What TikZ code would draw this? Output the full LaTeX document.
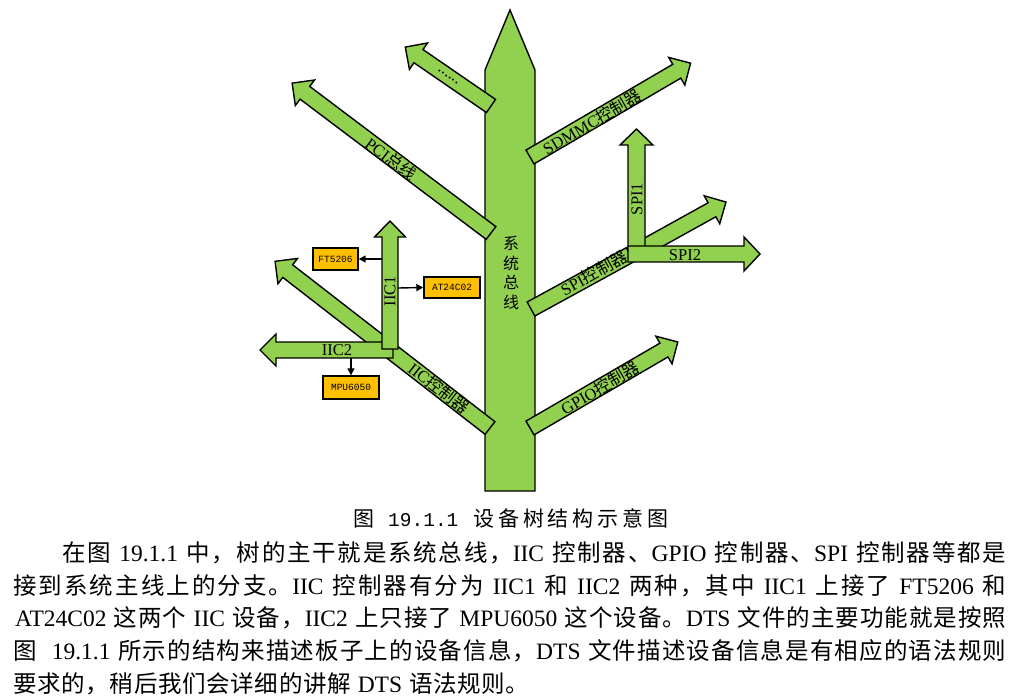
\documentclass[tikz,border=0pt]{standalone}
\usepackage{fontspec}
\setmainfont{Liberation Serif}
\newfontfamily\cjk{Noto Sans CJK SC}
\newfontfamily\monofam{Liberation Mono}
\usetikzlibrary{arrows.meta}

\definecolor{leaf}{HTML}{92D050}
\definecolor{chip}{HTML}{FFC000}

% character classes for Han ideographs and CJK punctuation, with
% stretchable glue between them so that lines can be justified
\newXeTeXintercharclass\hanclass
\newXeTeXintercharclass\cjkpunct
\count255="4E00
\loop
  \XeTeXcharclass\count255=\hanclass
  \advance\count255 by 1
  \ifnum\count255<"A000
\repeat
\XeTeXcharclass"3001=\cjkpunct
\XeTeXcharclass"3002=\cjkpunct
\XeTeXcharclass"FF0C=\cjkpunct
\XeTeXinterchartokenstate=1
\XeTeXinterchartoks\hanclass\hanclass={\hskip 0pt plus 2pt\relax}
\XeTeXinterchartoks\hanclass\cjkpunct={\hskip 0pt plus 2pt\relax}
\XeTeXinterchartoks\cjkpunct\hanclass={\hskip 0pt plus 2pt\relax}

\newcommand\cj[1]{{\cjk #1}}
\newcommand\pcj[1]{{\cjk\fontsize{23.5}{28}\selectfont #1}}

\tikzset{
  limb/.style={draw=black, fill=leaf, line width=1.4pt, line join=miter},
  pics/arrowlimb/.style n args={3}{code={
    \draw[limb] (0,-#2) -- (#1-16,-#2) -- (#1-16,-#3) -- (#1,0)
                -- (#1-16,#3) -- (#1-16,#2) -- (0,#2) -- cycle;}},
  pics/stemlimb/.style n args={2}{code={
    \draw[limb] (0,-#2) rectangle (#1,#2);}},
  tag/.style={inner sep=0pt, font=\fontsize{16.5}{18}\selectfont},
  chipbox/.style={draw=black, fill=chip, line width=1.4pt, inner sep=0pt,
                  font=\monofam\fontsize{9.5}{10}\selectfont},
  wire/.style={line width=1.4pt, -{Triangle[length=7pt,width=7pt]}},
  textline/.style={anchor=base west, inner sep=0pt, font=\fontsize{23.5}{28}\selectfont},
}

\begin{document}
\begin{tikzpicture}[x=1pt,y=-1pt]
\useasboundingbox (0,0) rectangle (1020,699);

% trunk: the system bus
\draw[limb] (485,491) -- (485,70) -- (510,10) -- (535,70) -- (535,491) -- cycle;

% main branches
\pic[rotate=143.0] at (491,233) {arrowlimb={249}{8}{16}};
\pic[rotate=145.5] at (491,106) {arrowlimb={104}{8}{16}};
\pic[rotate=30.3]  at (530,157) {arrowlimb={186}{8}{16}};
\pic[rotate=30.2]  at (530,428) {arrowlimb={171}{8}{16}};
\pic[rotate=142.2] at (490,428) {arrowlimb={272}{8}{16}};

% IIC sub-branches
\pic[rotate=180] at (393,350) {arrowlimb={133}{8}{16}};
\pic[rotate=90]  at (390,349) {arrowlimb={128}{8}{15.5}};

% SPI controller and its sub-branches
\pic[rotate=28.7] at (531,309) {stemlimb={113}{8}};
\pic[rotate=29]   at (638.5,250.5) {arrowlimb={100}{8}{16}};
\pic[rotate=90]   at (636.5,252) {arrowlimb={123}{8.5}{16.5}};
\pic[rotate=0]    at (628,254) {arrowlimb={132}{8}{17}};

% branch labels
\node[inner sep=0pt, align=center, font=\cjk\fontsize{16}{19.7}\selectfont]
  (bus) at (511,273) {系\\统\\总\\线};
\node[tag, rotate=-37]   (pci)   at (391,159) {PCI\cj{总线}};
\node[tag, rotate=-34.5] (more)  at (448,77)  {......};
\node[tag, rotate=30]    (sdmmc) at (592,122) {SDMMC\cj{控制器}};
\node[tag, rotate=30]    (gpio)  at (600,388) {GPIO\cj{控制器}};
\node[tag, rotate=-37.8] (iic)   at (439,388) {IIC\cj{控制器}};
\node[tag, rotate=29]    (spi)   at (594,273) {SPI\cj{控制器}};
\node[tag, rotate=90]    (spi1)  at (637,199) {SPI1};
\node[tag]               (spi2)  at (685,255) {SPI2};
\node[tag, rotate=90]    (iic1)  at (390,291) {IIC1};
\node[tag]               (iic2)  at (337,350) {IIC2};

% devices on the IIC buses
\node[chipbox, minimum width=45pt, minimum height=22pt] (ft)  at (335.5,259)   {FT5206};
\node[chipbox, minimum width=56pt, minimum height=21pt] (at)  at (452,287.5)   {AT24C02};
\node[chipbox, minimum width=56pt, minimum height=23pt] (mpu) at (351,387.5)   {MPU6050};

\coordinate (iic1w) at (382,259);
\coordinate (iic1e) at (398,288);
\coordinate (iic2s) at (351,358);
\draw[wire] (iic1w) -- (ft.east);
\draw[wire] (iic1e) -- (at.west);
\draw[wire] (iic2s) -- (mpu.north);

% caption
\node[anchor=base west, inner sep=0pt, font=\fontsize{21}{24}\selectfont] (cap) at (353,526.5)
  {\cj{图}\kern14pt{\monofam\fontsize{19.5}{24}\selectfont 19.1.1}\kern15pt\hbox to 195pt{\cjk 设备树结构示意图}};

% body text
\node[textline] (l1) at (62,561)
  {\hbox to 944pt{\pcj{在图} 19.1.1 \pcj{中，树的主干就是系统总线，}IIC \pcj{控制器、}GPIO \pcj{控制器、}SPI \pcj{控制器等都是}}};
\node[textline] (l2) at (13,594)
  {\hbox to 993pt{\pcj{接到系统主线上的分支。}IIC \pcj{控制器有分为} IIC1 \pcj{和} IIC2 \pcj{两种，其中} IIC1 \pcj{上接了} FT5206 \pcj{和}}};
\node[textline] (l3) at (15,626.7)
  {\hbox to 991pt{AT24C02 \pcj{这两个} IIC \pcj{设备，}IIC2 \pcj{上只接了} MPU6050 \pcj{这个设备。}DTS \pcj{文件的主要功能就是按照}}};
\node[textline] (l4) at (13,659.5)
  {\hbox to 993pt{\pcj{图}\ \ 19.1.1 \pcj{所示的结构来描述板子上的设备信息，}DTS \pcj{文件描述设备信息是有相应的语法规则}}};
\node[textline] (l5) at (13,692)
  {\hbox to 516pt{\pcj{要求的，稍后我们会详细的讲解} DTS \pcj{语法规则。}}};
\end{tikzpicture}
\end{document}
